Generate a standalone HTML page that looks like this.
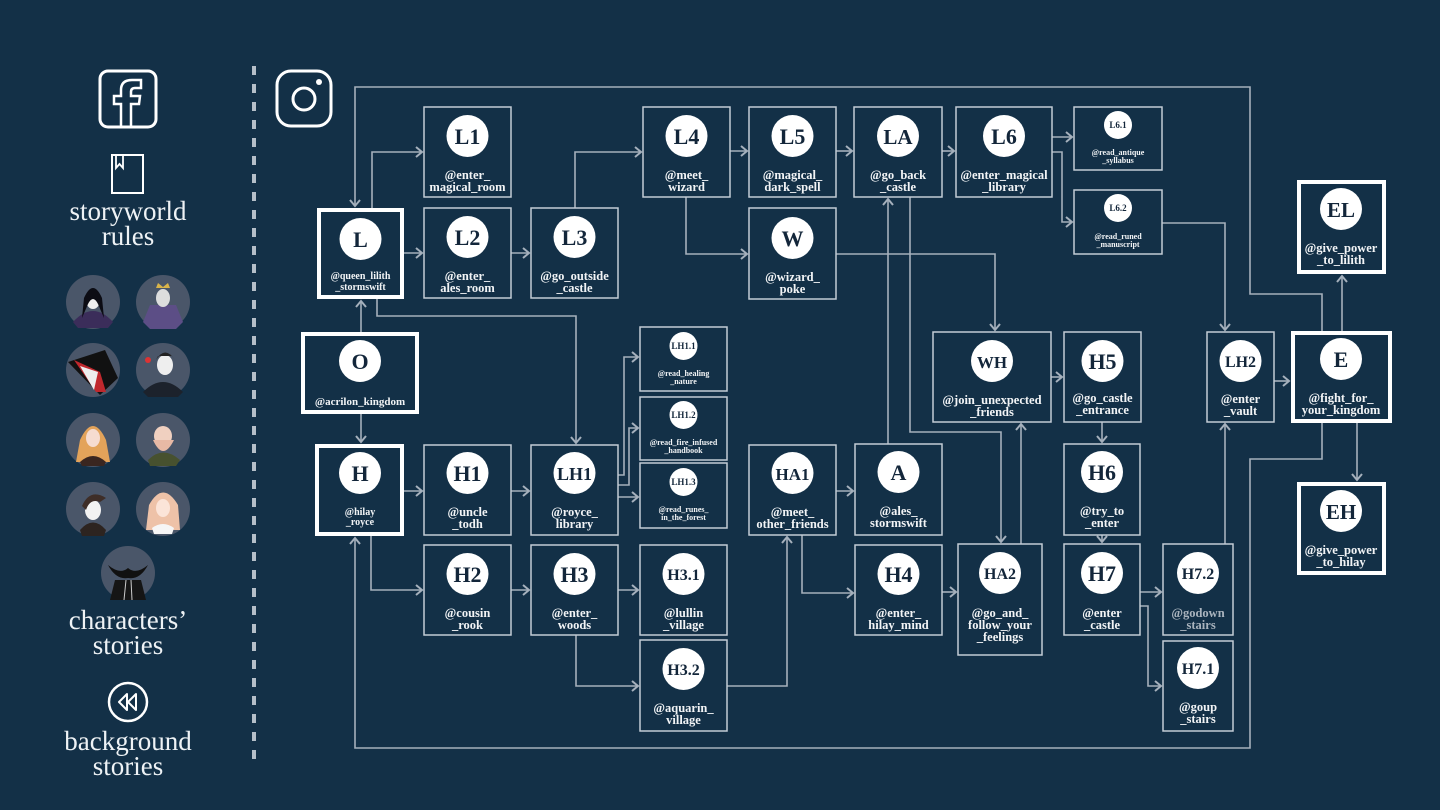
<!DOCTYPE html>
<html><head><meta charset="utf-8"><style>
html,body{margin:0;padding:0;background:#133047;}
svg{display:block}
.b{fill:none;stroke:#c3ccd5;stroke-width:1.5}
.t{fill:none;stroke:#fff;stroke-width:4}
.c{fill:none;stroke:#a5b0bc;stroke-width:1.6}
.lt{font-family:"Liberation Serif",serif;font-weight:bold;fill:#13263a;text-anchor:middle}
.lb{font-family:"Liberation Serif",serif;font-weight:bold;fill:#f2f4f6;text-anchor:middle}
.sb{font-family:"Liberation Serif",serif;fill:#eef2f5;text-anchor:middle;font-size:27px}
</style></head><body>
<svg width="1440" height="810" viewBox="0 0 1440 810" xmlns="http://www.w3.org/2000/svg">
<defs><marker id="a" markerUnits="userSpaceOnUse" markerWidth="10" markerHeight="12" refX="7" refY="6" orient="auto"><path d="M1,1 L7,6 L1,11" fill="none" stroke="#a5b0bc" stroke-width="2"/></marker></defs>
<rect width="1440" height="810" fill="#133047"/>

<!-- sidebar -->
<line x1="254" y1="66" x2="254" y2="760" stroke="#b5bfc9" stroke-width="4" stroke-dasharray="9 9"/>
<rect x="100" y="71" width="56" height="56" rx="8" fill="none" stroke="#fff" stroke-width="3"/>
<path d="M121,126 V104 H114 V96 H121 V90 Q121,80 132,80 H141 V88 H135 Q131,88 131,92 V96 H140 L139,104 H131 V126" fill="none" stroke="#fff" stroke-width="2.5"/>
<rect x="112" y="155" width="31" height="38" fill="none" stroke="#fff" stroke-width="2"/>
<path d="M116,155 V168 L119.5,164 L123,168 V155" fill="none" stroke="#fff" stroke-width="1.8"/>
<text class="sb" x="128" y="220">storyworld</text>
<text class="sb" x="128" y="245">rules</text>
<g>
<circle cx="93" cy="302" r="27" fill="#4a5669"/><path d="M73,322 Q93,300 113,322 L108,328 H78Z" fill="#3b2d5a"/><ellipse cx="93" cy="300" rx="7" ry="9" fill="#eee"/><path d="M84,298 Q93,278 102,298 L104,318 L98,304 Q93,294 88,304 L82,318Z" fill="#0c0c14"/>
<circle cx="163" cy="302" r="27" fill="#4a5669"/><path d="M143,322 L150,305 H176 L183,322 L176,329 H150Z" fill="#5c4e86"/><ellipse cx="163" cy="298" rx="7" ry="9" fill="#ddd"/><path d="M156,288 L158,283 L163,287 L168,283 L170,288Z" fill="#d9b44a"/>
<circle cx="93" cy="370" r="27" fill="#4a5669"/><path d="M68,362 L105,350 L118,378 L100,395 Z" fill="#111"/><path d="M74,360 L100,372 L106,392 L96,392 Z" fill="#c0282d"/><path d="M80,366 L98,372 L94,390 Z" fill="#eee"/>
<circle cx="163" cy="370" r="27" fill="#4a5669"/><path d="M143,392 Q163,372 183,392 L178,397 H148Z" fill="#1c222c"/><ellipse cx="165" cy="365" rx="8" ry="10" fill="#eee"/><path d="M156,360 Q165,345 175,360 L172,356 H158Z" fill="#222"/><circle cx="148" cy="360" r="3" fill="#d33"/>
<circle cx="93" cy="440" r="27" fill="#4a5669"/><path d="M80,440 Q93,412 106,440 L110,462 H76Z" fill="#e3a35a"/><ellipse cx="93" cy="438" rx="7" ry="9" fill="#f6dcd0"/><path d="M80,462 Q93,450 106,462 L104,466 H82Z" fill="#3a2620"/>
<circle cx="163" cy="440" r="27" fill="#4a5669"/><path d="M148,460 Q163,445 180,460 L176,466 H150Z" fill="#47512f"/><ellipse cx="163" cy="436" rx="9" ry="10" fill="#f0d0c0"/><path d="M153,440 Q163,462 174,440 Z" fill="#e8b9a5"/>
<circle cx="93" cy="509" r="27" fill="#4a5669"/><path d="M80,530 Q93,515 106,530 L104,536 H82Z" fill="#2d2420"/><ellipse cx="93" cy="510" rx="8" ry="10" fill="#f2f2f2"/><path d="M82,506 Q90,488 106,498 L100,502 Q90,498 86,510Z" fill="#3e2e28"/>
<circle cx="163" cy="509" r="27" fill="#4a5669"/><path d="M149,505 Q163,480 178,505 L180,530 H146Z" fill="#eec2a8"/><ellipse cx="163" cy="508" rx="7" ry="9" fill="#fbe4d8"/><path d="M152,528 Q163,520 174,528 L172,534 H154Z" fill="#f6f6f6"/>
<circle cx="128" cy="573" r="27" fill="#4a5669"/><path d="M108,565 Q120,575 128,568 Q136,575 148,565 Q140,580 128,578 Q116,580 108,565Z" fill="#111"/><path d="M115,580 H141 L146,600 H110Z" fill="#151515"/><line x1="126" y1="580" x2="124" y2="600" stroke="#ccc" stroke-width="1"/><line x1="131" y1="580" x2="132" y2="600" stroke="#ccc" stroke-width="1"/>
</g>
<text class="sb" x="128" y="629">characters’</text>
<text class="sb" x="128" y="654">stories</text>
<circle cx="128" cy="702" r="19" fill="none" stroke="#fff" stroke-width="2.5"/>
<path d="M127,694 L119,702 L127,710 Z M136,694 L128,702 L136,710 Z" fill="none" stroke="#fff" stroke-width="2" stroke-linejoin="round"/>
<text class="sb" x="128" y="750">background</text>
<text class="sb" x="128" y="775">stories</text>

<!-- instagram -->
<rect x="277" y="71" width="54" height="55" rx="14" fill="none" stroke="#fff" stroke-width="3"/>
<circle cx="304" cy="99" r="11" fill="none" stroke="#fff" stroke-width="3"/>
<circle cx="319" cy="82" r="3" fill="#fff"/>

<!-- connectors -->
<g class="c">
<path d="M1322,331 V294 H1250 V87 H355 V206" marker-end="url(#a)"/>
<path d="M1322,423 V459 H1250 V748 H355 V538" marker-end="url(#a)"/>
<path d="M1342,331 V276" marker-end="url(#a)"/>
<path d="M1357,423 V480" marker-end="url(#a)"/>
<path d="M1274,381 H1289" marker-end="url(#a)"/>
<path d="M1162,223 H1225 V330" marker-end="url(#a)"/>
<path d="M1052,137 H1072" marker-end="url(#a)"/>
<path d="M1052,152 H1062 V222 H1072" marker-end="url(#a)"/>
<path d="M730,151 H747" marker-end="url(#a)"/>
<path d="M836,151 H852" marker-end="url(#a)"/>
<path d="M942,151 H954" marker-end="url(#a)"/>
<path d="M686,197 V254 H747" marker-end="url(#a)"/>
<path d="M836,254 H995 V330" marker-end="url(#a)"/>
<path d="M888,444 V199" marker-end="url(#a)"/>
<path d="M910,197 V432 H1001 V542" marker-end="url(#a)"/>
<path d="M1021,544 V424" marker-end="url(#a)"/>
<path d="M1051,377 H1062" marker-end="url(#a)"/>
<path d="M1102,422 V442" marker-end="url(#a)"/>
<path d="M1102,535 V542" marker-end="url(#a)"/>
<path d="M1140,592 H1161" marker-end="url(#a)"/>
<path d="M1140,606 H1148 V686 H1161" marker-end="url(#a)"/>
<path d="M1225,544 V424" marker-end="url(#a)"/>
<path d="M942,592 H956" marker-end="url(#a)"/>
<path d="M372,208 V152 H422" marker-end="url(#a)"/>
<path d="M404,253 H422" marker-end="url(#a)"/>
<path d="M511,253 H529" marker-end="url(#a)"/>
<path d="M575,208 V152 H641" marker-end="url(#a)"/>
<path d="M361,332 V301" marker-end="url(#a)"/>
<path d="M377,299 V316 H576 V443" marker-end="url(#a)"/>
<path d="M361,414 V442" marker-end="url(#a)"/>
<path d="M404,491 H422" marker-end="url(#a)"/>
<path d="M511,491 H529" marker-end="url(#a)"/>
<path d="M618,475 H624 V357 H638" marker-end="url(#a)"/>
<path d="M618,485 H629 V428 H638" marker-end="url(#a)"/>
<path d="M618,497 H638" marker-end="url(#a)"/>
<path d="M371,536 V590 H422" marker-end="url(#a)"/>
<path d="M511,590 H529" marker-end="url(#a)"/>
<path d="M618,590 H638" marker-end="url(#a)"/>
<path d="M576,635 V686 H638" marker-end="url(#a)"/>
<path d="M727,686 H787 V537" marker-end="url(#a)"/>
<path d="M802,535 V593 H853" marker-end="url(#a)"/>
<path d="M836,491 H853" marker-end="url(#a)"/>
</g>

<!-- regular nodes -->
<g font-size="12.5">
<rect class="b" x="424" y="107" width="87" height="90"/><circle cx="467.5" cy="136" r="21" fill="#fff"/><text class="lt" x="467.5" y="144" font-size="22">L1</text><text class="lb" x="467.5" y="179">@enter_</text><text class="lb" x="467.5" y="191">magical_room</text>
<rect class="b" x="424" y="208" width="87" height="90"/><circle cx="467.5" cy="237" r="21" fill="#fff"/><text class="lt" x="467.5" y="245" font-size="22">L2</text><text class="lb" x="467.5" y="280">@enter_</text><text class="lb" x="467.5" y="292">ales_room</text>
<rect class="b" x="531" y="208" width="87" height="90"/><circle cx="574.5" cy="237" r="21" fill="#fff"/><text class="lt" x="574.5" y="245" font-size="22">L3</text><text class="lb" x="574.5" y="280">@go_outside</text><text class="lb" x="574.5" y="292">_castle</text>
<rect class="b" x="643" y="107" width="87" height="90"/><circle cx="686.5" cy="136" r="21" fill="#fff"/><text class="lt" x="686.5" y="144" font-size="22">L4</text><text class="lb" x="686.5" y="179">@meet_</text><text class="lb" x="686.5" y="191">wizard</text>
<rect class="b" x="749" y="107" width="87" height="90"/><circle cx="792.5" cy="136" r="21" fill="#fff"/><text class="lt" x="792.5" y="144" font-size="22">L5</text><text class="lb" x="792.5" y="179">@magical_</text><text class="lb" x="792.5" y="191">dark_spell</text>
<rect class="b" x="854" y="107" width="88" height="90"/><circle cx="898" cy="136" r="21" fill="#fff"/><text class="lt" x="898" y="144" font-size="21">LA</text><text class="lb" x="898" y="179">@go_back</text><text class="lb" x="898" y="191">_castle</text>
<rect class="b" x="956" y="107" width="96" height="90"/><circle cx="1004" cy="136" r="21" fill="#fff"/><text class="lt" x="1004" y="144" font-size="22">L6</text><text class="lb" x="1004" y="179">@enter_magical</text><text class="lb" x="1004" y="191">_library</text>
<rect class="b" x="749" y="208" width="87" height="91"/><circle cx="792.5" cy="238" r="21" fill="#fff"/><text class="lt" x="792.5" y="246" font-size="22">W</text><text class="lb" x="792.5" y="281">@wizard_</text><text class="lb" x="792.5" y="293">poke</text>
<rect class="b" x="933" y="332" width="118" height="90"/><circle cx="992" cy="361" r="21" fill="#fff"/><text class="lt" x="992" y="368" font-size="17">WH</text><text class="lb" x="992" y="404">@join_unexpected</text><text class="lb" x="992" y="416">_friends</text>
<rect class="b" x="1064" y="332" width="77" height="90"/><circle cx="1102.5" cy="361" r="21" fill="#fff"/><text class="lt" x="1102.5" y="369" font-size="22">H5</text><text class="lb" x="1102.5" y="402">@go_castle</text><text class="lb" x="1102.5" y="414">_entrance</text>
<rect class="b" x="1207" y="332" width="67" height="90"/><circle cx="1240.5" cy="361" r="21" fill="#fff"/><text class="lt" x="1240.5" y="367" font-size="16">LH2</text><text class="lb" x="1240.5" y="403">@enter</text><text class="lb" x="1240.5" y="415">_vault</text>
<rect class="b" x="424" y="445" width="87" height="90"/><circle cx="467.5" cy="473" r="21" fill="#fff"/><text class="lt" x="467.5" y="481" font-size="22">H1</text><text class="lb" x="467.5" y="516">@uncle</text><text class="lb" x="467.5" y="528">_todh</text>
<rect class="b" x="531" y="445" width="87" height="90"/><circle cx="574.5" cy="473" r="21" fill="#fff"/><text class="lt" x="574.5" y="480" font-size="18">LH1</text><text class="lb" x="574.5" y="516">@royce_</text><text class="lb" x="574.5" y="528">library</text>
<rect class="b" x="749" y="445" width="87" height="90"/><circle cx="792.5" cy="473" r="21" fill="#fff"/><text class="lt" x="792.5" y="480" font-size="17">HA1</text><text class="lb" x="792.5" y="516">@meet_</text><text class="lb" x="792.5" y="528">other_friends</text>
<rect class="b" x="855" y="444" width="87" height="91"/><circle cx="898.5" cy="472" r="21" fill="#fff"/><text class="lt" x="898.5" y="480" font-size="22">A</text><text class="lb" x="898.5" y="515">@ales_</text><text class="lb" x="898.5" y="527">stormswift</text>
<rect class="b" x="1064" y="444" width="76" height="91"/><circle cx="1102" cy="472" r="21" fill="#fff"/><text class="lt" x="1102" y="480" font-size="22">H6</text><text class="lb" x="1102" y="515">@try_to</text><text class="lb" x="1102" y="527">_enter</text>
<rect class="b" x="424" y="545" width="87" height="90"/><circle cx="467.5" cy="574" r="21" fill="#fff"/><text class="lt" x="467.5" y="582" font-size="22">H2</text><text class="lb" x="467.5" y="617">@cousin</text><text class="lb" x="467.5" y="629">_rook</text>
<rect class="b" x="531" y="545" width="87" height="90"/><circle cx="574.5" cy="574" r="21" fill="#fff"/><text class="lt" x="574.5" y="582" font-size="22">H3</text><text class="lb" x="574.5" y="617">@enter_</text><text class="lb" x="574.5" y="629">woods</text>
<rect class="b" x="640" y="545" width="87" height="90"/><circle cx="683.5" cy="574" r="21" fill="#fff"/><text class="lt" x="683.5" y="580" font-size="16">H3.1</text><text class="lb" x="683.5" y="617">@lullin</text><text class="lb" x="683.5" y="629">_village</text>
<rect class="b" x="855" y="545" width="87" height="90"/><circle cx="898.5" cy="574" r="21" fill="#fff"/><text class="lt" x="898.5" y="582" font-size="22">H4</text><text class="lb" x="898.5" y="617">@enter_</text><text class="lb" x="898.5" y="629">hilay_mind</text>
<rect class="b" x="958" y="544" width="84" height="111"/><circle cx="1000" cy="573" r="21" fill="#fff"/><text class="lt" x="1000" y="579" font-size="16">HA2</text><text class="lb" x="1000" y="617">@go_and_</text><text class="lb" x="1000" y="629">follow_your</text><text class="lb" x="1000" y="641">_feelings</text>
<rect class="b" x="1064" y="544" width="76" height="91"/><circle cx="1102" cy="573" r="21" fill="#fff"/><text class="lt" x="1102" y="581" font-size="22">H7</text><text class="lb" x="1102" y="617">@enter</text><text class="lb" x="1102" y="629">_castle</text>
<rect class="b" x="1163" y="544" width="70" height="91"/><circle cx="1198" cy="573" r="21" fill="#fff"/><text class="lt" x="1198" y="579" font-size="16">H7.2</text><text class="lb" x="1198" y="617" fill="#aab4be" style="fill:#aab4be">@godown</text><text class="lb" x="1198" y="629" style="fill:#aab4be">_stairs</text>
<rect class="b" x="640" y="640" width="87" height="91"/><circle cx="683.5" cy="669" r="21" fill="#fff"/><text class="lt" x="683.5" y="675" font-size="16">H3.2</text><text class="lb" x="683.5" y="712">@aquarin_</text><text class="lb" x="683.5" y="724">village</text>
<rect class="b" x="1163" y="641" width="70" height="90"/><circle cx="1198" cy="668" r="21" fill="#fff"/><text class="lt" x="1198" y="674" font-size="16">H7.1</text><text class="lb" x="1198" y="711">@goup</text><text class="lb" x="1198" y="723">_stairs</text>
</g>

<!-- thick nodes -->
<g font-size="12.5">
<rect class="t" x="319" y="210" width="83" height="87"/><circle cx="360.5" cy="239" r="21" fill="#fff"/><text class="lt" x="360.5" y="247" font-size="22">L</text><text class="lb" x="360.5" y="279" font-size="10">@queen_lilith</text><text class="lb" x="360.5" y="290" font-size="10">_stormswift</text>
<rect class="t" x="303" y="334" width="114" height="78"/><circle cx="360" cy="361" r="21" fill="#fff"/><text class="lt" x="360" y="369" font-size="22">O</text><text class="lb" x="360" y="405" font-size="11">@acrilon_kingdom</text>
<rect class="t" x="317" y="446" width="85" height="88"/><circle cx="360" cy="473" r="21" fill="#fff"/><text class="lt" x="360" y="481" font-size="22">H</text><text class="lb" x="360" y="515" font-size="10">@hilay</text><text class="lb" x="360" y="525" font-size="10">_royce</text>
<rect class="t" x="1293" y="333" width="97" height="88"/><circle cx="1341" cy="359" r="21" fill="#fff"/><text class="lt" x="1341" y="367" font-size="22">E</text><text class="lb" x="1341" y="402">@fight_for_</text><text class="lb" x="1341" y="414">your_kingdom</text>
<rect class="t" x="1299" y="182" width="85" height="90"/><circle cx="1341" cy="209" r="21" fill="#fff"/><text class="lt" x="1341" y="217" font-size="21">EL</text><text class="lb" x="1341" y="252">@give_power</text><text class="lb" x="1341" y="264">_to_lilith</text>
<rect class="t" x="1299" y="484" width="85" height="89"/><circle cx="1341" cy="511" r="21" fill="#fff"/><text class="lt" x="1341" y="519" font-size="21">EH</text><text class="lb" x="1341" y="554">@give_power</text><text class="lb" x="1341" y="566">_to_hilay</text>
</g>

<!-- small nodes -->
<g font-size="8">
<rect class="b" x="1074" y="107" width="88" height="63"/><circle cx="1118" cy="125" r="14" fill="#fff"/><text class="lt" x="1118" y="128" font-size="9">L6.1</text><text class="lb" x="1118" y="155">@read_antique</text><text class="lb" x="1118" y="163">_syllabus</text>
<rect class="b" x="1074" y="190" width="88" height="64"/><circle cx="1118" cy="208" r="14" fill="#fff"/><text class="lt" x="1118" y="211" font-size="9">L6.2</text><text class="lb" x="1118" y="239">@read_runed</text><text class="lb" x="1118" y="247">_manuscript</text>
<rect class="b" x="640" y="327" width="87" height="64"/><circle cx="683.5" cy="346" r="14" fill="#fff"/><text class="lt" x="683.5" y="349" font-size="9">LH1.1</text><text class="lb" x="683.5" y="376">@read_healing</text><text class="lb" x="683.5" y="384">_nature</text>
<rect class="b" x="640" y="397" width="87" height="63"/><circle cx="683.5" cy="415" r="14" fill="#fff"/><text class="lt" x="683.5" y="418" font-size="9">LH1.2</text><text class="lb" x="683.5" y="445">@read_fire_infused</text><text class="lb" x="683.5" y="453">_handbook</text>
<rect class="b" x="640" y="463" width="87" height="65"/><circle cx="683.5" cy="482" r="14" fill="#fff"/><text class="lt" x="683.5" y="485" font-size="9">LH1.3</text><text class="lb" x="683.5" y="512">@read_runes_</text><text class="lb" x="683.5" y="520">in_the_forest</text>
</g>
</svg>
</body></html>
